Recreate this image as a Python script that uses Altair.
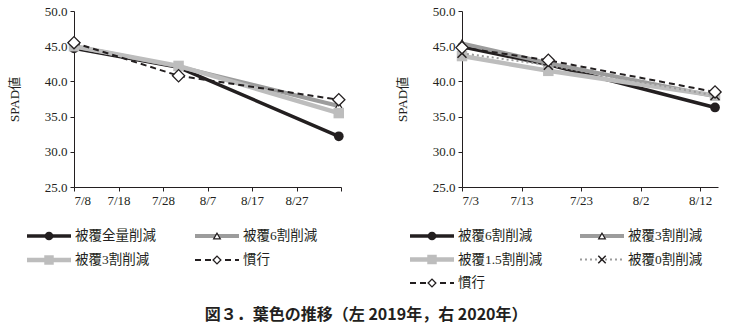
import json
import altair as alt
import pandas as pd

# ---------------- data ----------------
# 2019 (left): days after 7/8
days_2019 = [0, 23.5, 59.5]
v2019_zenryo = [44.7, 42.0, 32.2]   # 被覆全量削減
v2019_6wari = [45.0, 42.1, 36.5]    # 被覆6割削減
v2019_3wari = [45.0, 42.2, 35.5]    # 被覆3割削減
v2019_kanko = [45.5, 40.8, 37.4]    # 慣行
ticks_2019 = [0, 10, 20, 30, 40, 50, 60]
labels_2019 = ["7/8", "7/18", "7/28", "8/7", "8/17", "8/27", ""]

# 2020 (right): days after 7/3
days_2020 = [0, 14.5, 42.5]
v2020_6wari = [44.9, 42.4, 36.3]    # 被覆6割削減
v2020_3wari = [45.4, 42.6, 37.9]    # 被覆3割削減
v2020_15wari = [43.6, 41.5, 38.0]   # 被覆1.5割削減
v2020_0wari = [44.0, 42.3, 38.0]    # 被覆0割削減
v2020_kanko = [44.8, 43.0, 38.5]    # 慣行
ticks_2020 = [0, 10, 20, 30, 40]
labels_2020 = ["7/3", "7/13", "7/23", "8/2", "8/12"]

y_ticks = [25, 30, 35, 40, 45, 50]

TITLE = "図３．葉色の推移（左 2019年，右 2020年）"

# ---------------- styles ----------------
INK = "#231f20"
SERIF = "Liberation Serif, Noto Sans CJK JP"
STYLES = {
    "black": dict(line=dict(color=INK, strokeWidth=3.5),
                  pt=dict(shape="circle", fill=INK, strokeWidth=0), size=(95, 75)),
    "tri": dict(line=dict(color="#9c9c9c", strokeWidth=4),
                pt=dict(shape="triangle-up", fill="white", stroke=INK, strokeWidth=1.2), size=(60, 45)),
    "sq": dict(line=dict(color="#bdbdbd", strokeWidth=4.5),
               pt=dict(shape="square", fill="#bdbdbd", strokeWidth=0), size=(110, 90)),
    "dash": dict(line=dict(color=INK, strokeWidth=2, strokeDash=[6, 4]),
                 pt=dict(shape="diamond", fill="white", stroke=INK, strokeWidth=1.3), size=(150, 60)),
    "dot": dict(line=dict(color="#9c9c9c", strokeWidth=2, strokeDash=[2, 3]),
                pt=dict(shape="M-1,-1L1,1M-1,1L1,-1", filled=False, stroke=INK, strokeWidth=1.5), size=(80, 55)),
}


def panel(days, series, ticks, labels, xdomain, width, col_px, row_px, nrows):
    label_expr = f"{json.dumps(labels, ensure_ascii=False)}[indexof({json.dumps(ticks)}, datum.value)]"
    X = alt.X("day:Q", scale=alt.Scale(domain=xdomain, nice=False, zero=False),
              axis=alt.Axis(values=ticks, labelExpr=label_expr, title=None))
    Y = alt.Y("v:Q", scale=alt.Scale(domain=[25, 50], nice=False, zero=False),
              axis=alt.Axis(values=y_ticks, format=".1f", title="SPAD値"))
    LX = alt.X("col:Q", scale=alt.Scale(domain=[0, 1], range=col_px), axis=None)
    LY = alt.Y("row:Q", scale=alt.Scale(domain=[0, nrows - 1], range=row_px), axis=None)

    plot_layers = []
    leg_layers = []
    for name, vals, key, col, row in series:
        st = STYLES[key]
        df = pd.DataFrame({"day": days, "v": vals})
        plot_layers.append(alt.Chart(df).mark_line(**st["line"]).encode(x=X, y=Y))
        plot_layers.append(alt.Chart(df).mark_point(size=st["size"][0], opacity=1, **st["pt"]).encode(x=X, y=Y))

        ldf = pd.DataFrame({"name": [name], "col": [col], "row": [row]})
        leg_layers.append(alt.Chart(ldf).mark_rule(xOffset=-22, x2Offset=22, **st["line"]).encode(
            x=LX, x2="col:Q", y=LY))
        leg_layers.append(alt.Chart(ldf).mark_point(size=st["size"][1], opacity=1, **st["pt"]).encode(
            x=LX, y=LY))
        leg_layers.append(alt.Chart(ldf).mark_text(align="left", baseline="middle", dx=26, fontSize=13.5,
                                                   font=SERIF, color=INK).encode(x=LX, y=LY, text="name:N"))

    plot = alt.layer(*plot_layers)
    legend = alt.layer(*leg_layers)
    return alt.layer(plot, legend).resolve_scale(x="independent", y="independent").properties(
        width=width, height=176)


left = panel(days_2019,
             [("被覆全量削減", v2019_zenryo, "black", 0, 0),
              ("被覆6割削減", v2019_6wari, "tri", 1, 0),
              ("被覆3割削減", v2019_3wari, "sq", 0, 1),
              ("慣行", v2019_kanko, "dash", 1, 1)],
             ticks_2019, labels_2019, [0, 60], 267, [-25, 143], [225, 249], 2)

right = panel(days_2020,
              [("被覆6割削減", v2020_6wari, "black", 0, 0),
               ("被覆3割削減", v2020_3wari, "tri", 1, 0),
               ("被覆1.5割削減", v2020_15wari, "sq", 0, 1),
               ("被覆0割削減", v2020_0wari, "dot", 1, 1),
               ("慣行", v2020_kanko, "dash", 0, 2)],
              ticks_2020, labels_2020, [0, 43], 256, [-30, 140], [225, 272], 3)

chart = alt.hconcat(left, right, spacing=48).properties(
    title=alt.TitleParams(TITLE, orient="bottom", anchor="middle", font="Noto Sans CJK JP",
                          fontSize=16, fontWeight="bold", color=INK, offset=17),
    padding={"left": 8, "top": 5, "right": 5, "bottom": 5},
    background="white",
).configure_view(stroke=None).configure_axis(
    grid=False, domainColor=INK, tickColor=INK, tickSize=4, domainWidth=1, tickWidth=1,
    labelFont=SERIF, labelFontSize=13, labelColor=INK, labelPadding=3,
    titleFont=SERIF, titleFontSize=13, titleFontWeight="normal", titleColor=INK, titlePadding=23,
)

chart.save("out.html", embed_options={"renderer": "svg", "actions": False})
